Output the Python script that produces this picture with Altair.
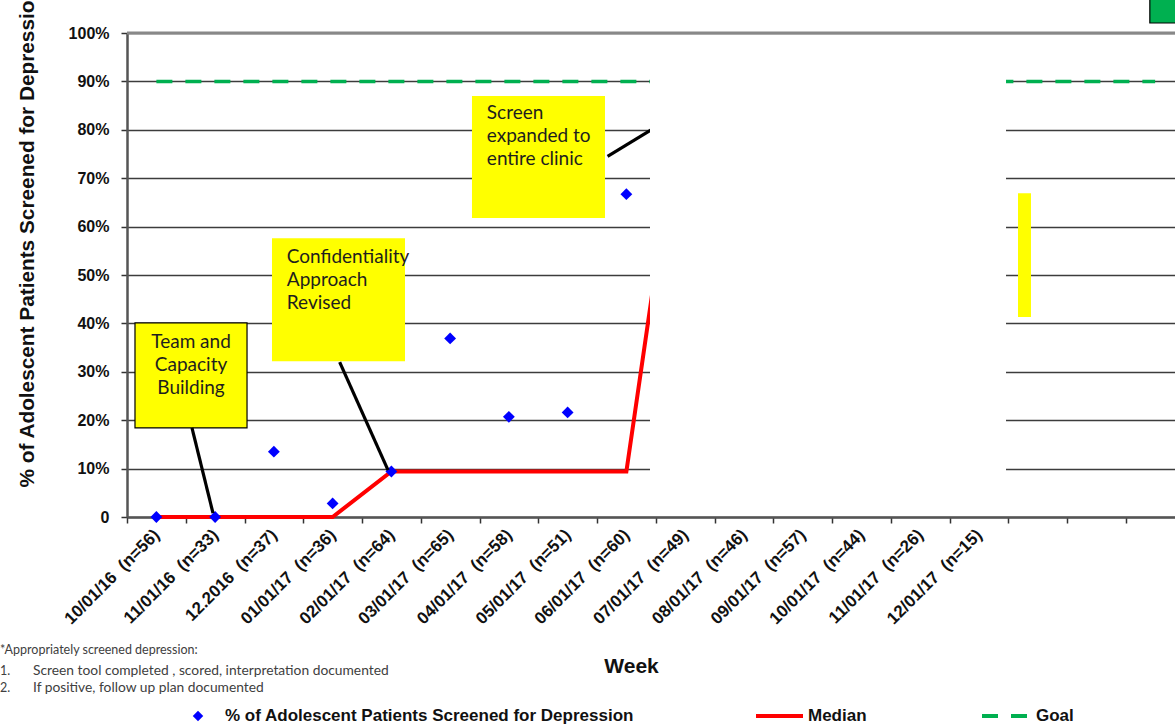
import altair as alt
import pandas as pd

# ---- data ---------------------------------------------------------------
weeks = [
    "10/01/16 (n=56)", "11/01/16 (n=33)", "12.2016 (n=37)", "01/01/17 (n=36)",
    "02/01/17 (n=64)", "03/01/17 (n=65)", "04/01/17 (n=58)", "05/01/17 (n=51)",
    "06/01/17 (n=60)", "07/01/17 (n=49)", "08/01/17 (n=46)", "09/01/17 (n=57)",
    "10/01/17 (n=44)", "11/01/17 (n=26)", "12/01/17 (n=15)",
]
spare_slots = [" ", "  ", "   "]          # unlabeled slots after December
categories = weeks + spare_slots

screened = [0.0, 0.0, 0.135, 0.028, 0.094, 0.369, 0.207, 0.216, 0.667]
median = [0.0, 0.0, 0.0, 0.0, 0.094, 0.094, 0.094, 0.094, 0.094, 0.93]
goal = [0.90] * len(categories)

notes = [
    "*Appropriately screened depression:",
    "Screen tool completed , scored, interpretation documented",
    "If positive, follow up plan documented",
]
callouts = {
    "team": ["Team and", "Capacity", "Building"],
    "conf": ["Confidentiality", "Approach", "Revised"],
    "screen": ["Screen", "expanded to", "entire clinic"],
}

# ---- layout -------------------------------------------------------------
PLOT_W = 1057.5        # full band range (runs past the right edge)
VIEW_W = 1048
VIEW_H = 484
AX_FONT = "Liberation Sans"
NOTE_FONT = "Lato"
N = len(categories)

# the date and the count are set apart by a wider gap on the tick labels
tick_label = "replace(datum.label, ' (', '\u00a0 (')"

x_band = alt.X(
    "week:N",
    scale=alt.Scale(domain=categories, range=[0, PLOT_W], paddingInner=0, paddingOuter=0),
    axis=alt.Axis(
        title="Week", labelAngle=-45, labelFont=AX_FONT, labelFontWeight="bold",
        labelFontSize=17, labelColor="#111111", labelPadding=9, labelAlign="right",
        labelBaseline="middle", labelExpr=tick_label,
        tickBand="extent", tickSize=6, tickColor="#333333",
        tickWidth=1.5, domainColor="#555555", domainWidth=2.5, grid=False,
        titleFont=AX_FONT, titleFontSize=21, titleFontWeight="bold", titleColor="#111111",
        titleX=504, titleY=149, titleBaseline="middle", titleAlign="center",
    ),
)
y_pct = alt.Y(
    "value:Q",
    scale=alt.Scale(domain=[0, 1]),
    axis=alt.Axis(
        values=[i / 10 for i in range(11)],
        labelExpr="datum.value == 0 ? '0' : format(datum.value, '.0%')",
        labelFont=AX_FONT, labelFontWeight="bold", labelFontSize=16, labelColor="#111111",
        labelPadding=12, tickSize=6, tickColor="#333333", tickWidth=1.5,
        domainColor="#555555", domainWidth=2.5, grid=True, gridColor="#3c3c3c", gridWidth=1.4,
        title="% of Adolescent Patients Screened for Depression",
        titleFont=AX_FONT, titleFontSize=20.8, titleFontWeight="bold", titleColor="#111111",
        titleAngle=270, titleAlign="left", titleBaseline="alphabetic",
        titleX=-94, titleY=454,
    ),
)

goal_df = pd.DataFrame({"week": categories, "value": goal})
median_df = pd.DataFrame({"week": categories[: len(median)], "value": median})
screen_df = pd.DataFrame({"week": categories[: len(screened)], "value": screened})

goal_line = alt.Chart(goal_df).mark_line(
    color="#00B050", strokeWidth=3.5, strokeDash=[16, 13]
).encode(x=x_band, y=y_pct)
median_line = alt.Chart(median_df).mark_line(
    color="#FF0000", strokeWidth=4
).encode(x=x_band, y=y_pct)
points = alt.Chart(screen_df).mark_point(
    shape="diamond", filled=True, color="#0000FF", size=140, opacity=1
).encode(x=x_band, y=y_pct)

main = alt.layer(goal_line, median_line, points)

# ---- annotation layer on a continuous slot scale ------------------------
xs = alt.Scale(domain=[0, N], range=[0, PLOT_W])
ys = alt.Scale(domain=[0, 1])


def box(x0, x1, y0, y1, fill, stroke=None):
    kw = {"fill": fill}
    if stroke:
        kw.update(stroke=stroke, strokeWidth=1.2)
    return alt.Chart(alt.Data(values=[{"a": x0, "b": x1, "c": y0, "d": y1}])).mark_rect(**kw).encode(
        x=alt.X("a:Q", scale=xs, axis=None), x2="b:Q",
        y=alt.Y("c:Q", scale=ys, axis=None), y2="d:Q",
    )


def pointer(x0, y0, x1, y1):
    return alt.Chart(alt.Data(values=[{"a": x0, "b": x1, "c": y0, "d": y1}])).mark_rule(
        color="#000000", strokeWidth=3.2
    ).encode(
        x=alt.X("a:Q", scale=xs, axis=None), x2="b:Q",
        y=alt.Y("c:Q", scale=ys, axis=None), y2="d:Q",
    )


def label_lines(lines, x, y_top, step, align):
    rows = [{"t": t, "x": x, "y": y_top - i * step} for i, t in enumerate(lines)]
    return alt.Chart(alt.Data(values=rows)).mark_text(
        font=NOTE_FONT, fontSize=19, color="#1e1e1e", align=align, baseline="middle"
    ).encode(
        x=alt.X("x:Q", scale=xs, axis=None), y=alt.Y("y:Q", scale=ys, axis=None), text="t:N"
    )


ann_layers = [
    box(0.136, 2.043, 0.184, 0.401, "#FFFF00", "#000000"),
    label_lines(callouts["team"], 1.09, 0.361, 0.0475, "center"),
    pointer(1.106, 0.184, 1.464, 0.008),
    box(2.468, 4.732, 0.322, 0.576, "#FFFF00"),
    label_lines(callouts["conf"], 2.72, 0.538, 0.0475, "left"),
    pointer(3.62, 0.320, 4.443, 0.097),
    box(5.872, 8.136, 0.618, 0.870, "#FFFF00"),
    label_lines(callouts["screen"], 6.125, 0.834, 0.0475, "left"),
    pointer(8.18, 0.745, 9.6, 0.85),
    # blank panel laid over the middle of the plot
    box(8.902, 14.962, 0.004, 0.993, "#FFFFFF"),
    box(15.166, 15.387, 0.413, 0.669, "#FFFF00"),
    box(17.41, 18.6, 1.0207, 1.12, "#00B050", "#000000"),
]

# top frame line of the plot area
ann_layers.append(
    alt.Chart(alt.Data(values=[{"a": 0, "b": N, "c": 1}])).mark_rule(
        color="#888888", strokeWidth=3
    ).encode(
        x=alt.X("a:Q", scale=xs, axis=None), x2="b:Q", y=alt.Y("c:Q", scale=ys, axis=None)
    )
)

one = alt.Data(values=[{}])
LEG_Y = 683
leg_font = dict(font=AX_FONT, fontSize=17, fontWeight="bold", color="#111111",
                align="left", baseline="middle")
ann_layers += [
    alt.Chart(one).mark_point(shape="diamond", filled=True, color="#0000FF", size=110, opacity=1)
    .encode(x=alt.value(71), y=alt.value(LEG_Y)),
    alt.Chart(one).mark_text(text="% of Adolescent Patients Screened for Depression", **leg_font)
    .encode(x=alt.value(98), y=alt.value(LEG_Y)),
    alt.Chart(one).mark_rule(color="#FF0000", strokeWidth=4)
    .encode(x=alt.value(629), x2=alt.value(676), y=alt.value(LEG_Y)),
    alt.Chart(one).mark_text(text="Median", **leg_font)
    .encode(x=alt.value(681), y=alt.value(LEG_Y)),
    alt.Chart(one).mark_rule(color="#00B050", strokeWidth=4, strokeDash=[16, 13])
    .encode(x=alt.value(855), x2=alt.value(901), y=alt.value(LEG_Y)),
    alt.Chart(one).mark_text(text="Goal", **leg_font)
    .encode(x=alt.value(909), y=alt.value(LEG_Y)),
]

note_font = dict(font=NOTE_FONT, fontSize=12.5, color="#404040", align="left", baseline="middle")
item_font = dict(note_font, fontSize=13.8)
ann_layers += [
    alt.Chart(one).mark_text(text=notes[0], **note_font).encode(x=alt.value(-127), y=alt.value(617)),
    alt.Chart(one).mark_text(text="1.", **note_font).encode(x=alt.value(-127), y=alt.value(638)),
    alt.Chart(one).mark_text(text=notes[1], **item_font).encode(x=alt.value(-94), y=alt.value(638)),
    alt.Chart(one).mark_text(text="2.", **note_font).encode(x=alt.value(-127), y=alt.value(655)),
    alt.Chart(one).mark_text(text=notes[2], **item_font).encode(x=alt.value(-94), y=alt.value(655)),
]

ann = alt.layer(*ann_layers)

chart = (
    alt.layer(main, ann)
    .resolve_scale(x="independent", y="independent")
    .properties(
        width=VIEW_W, height=VIEW_H,
        autosize=alt.AutoSizeParams(type="none"),
        padding={"left": 127, "top": 33, "right": 0, "bottom": 211},
        background="white",
    )
    .configure_view(stroke=None)
)

chart.save("out.html", embed_options={"renderer": "svg", "actions": False})
